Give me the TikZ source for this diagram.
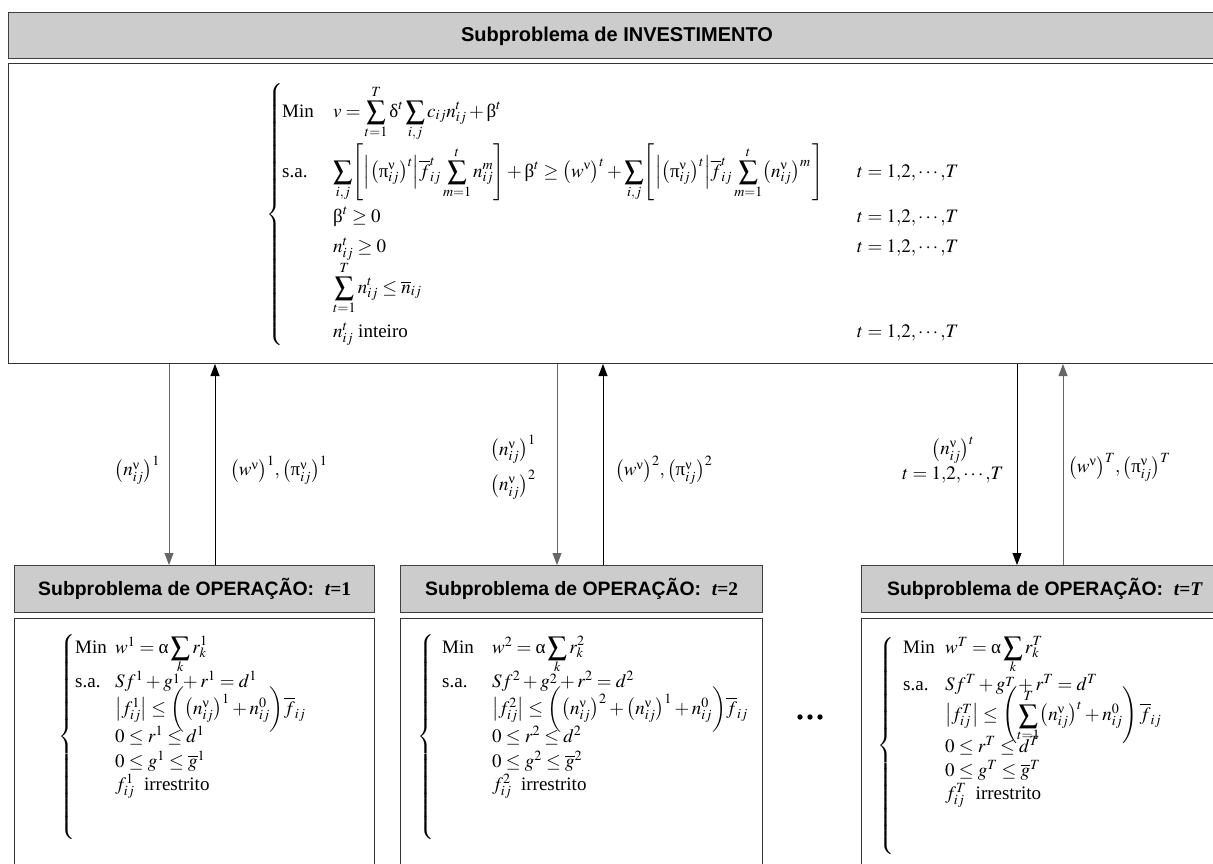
\documentclass[tikz,border=0pt]{standalone}
\usepackage{fix-cm}
\usepackage{amsmath}
\IfFileExists{mathptmx.sty}{\usepackage{mathptmx}}{}
\usepackage{fontspec}
\setmainfont{Liberation Serif}
\newfontfamily\lsans{Liberation Sans}
\usetikzlibrary{arrows.meta}
\newcommand{\gbeta}{\textup{β}}
\newcommand{\gdelta}{\textup{δ}}
\newcommand{\gpi}{\textup{π}}
\newcommand{\galpha}{\textup{α}}
\newcommand{\gnu}{\textup{ν}}
\newcommand{\nv}[1]{\bigl(n^{\gnu}_{ij}\bigr)^{#1}}
\newcommand{\tcond}{$t=1{,}2{,}\cdots{,}T$}
\newcommand{\lowsum}[3]{\mathop{\lower#1\hbox{$\displaystyle\sum_{\smash{#2}}^{#3}$}}}
\newcommand{\lsup}[1]{^{\lower3pt\hbox{$\scriptstyle #1$}}}
\tikzset{
  hdr/.style={draw=black!75, fill=black!20, line width=1.3pt, inner sep=0pt, anchor=north west},
  body/.style={draw=black!80, line width=1pt, inner sep=0pt, anchor=north west},
  arr/.style={-{Triangle[width=9pt,length=12pt]}, line width=0.8pt},
  mth/.style={inner sep=0pt, anchor=base west, font=\fontsize{19}{23}\selectfont},
  lbl/.style={inner sep=0pt, font=\fontsize{19}{23}\selectfont},
  brc/.style={inner sep=0pt, anchor=west, font=\fontsize{19}{23}\selectfont},
  ttl/.style={inner sep=0pt, font=\lsans\bfseries\fontsize{20}{24}\selectfont},
  optl/.style={inner sep=0pt, font=\lsans\bfseries\fontsize{19.4}{23}\selectfont},
}
\begin{document}
\begin{tikzpicture}[x=1pt,y=-1pt]
\useasboundingbox (0,0) rectangle (1213,863);
\clip (0,0) rectangle (1213,863);
% ---------- investment subproblem ----------
\node[hdr, minimum width=1230pt, minimum height=46pt] (invh) at (8,12) {};
\node[ttl] (invt) at (617,36) {Subproblema de INVESTIMENTO};
\node[body, minimum width=1230pt, minimum height=300pt] (inv) at (8,63) {};
\node[brc] (ib) at (266,215) {$\left\{\vrule height 128pt depth 128pt width 0pt\right.$};
\node[mth] (im1) at (282,117) {Min};
\node[mth] (is1) at (282,177) {s.a.};
\node[mth] (ie1) at (333,117) {$v = \displaystyle\sum_{t=1}^{T}\gdelta^{t}\sum_{i,j}c_{ij}n_{ij}^{t} + \gbeta^{t}$};
\node[mth] (ie2) at (333,177) {$\displaystyle\sum_{i,j}\Biggl[\Bigl|\bigl(\gpi^{\gnu}_{ij}\bigr)^{t}\Bigr|\overline{f}^{t}_{ij}\sum_{m=1}^{t}n^{m}_{ij}\Biggr] + \gbeta^{t} \ge \bigl(w^{\gnu}\bigr)^{t} + \sum_{i,j}\Biggl[\Bigl|\bigl(\gpi^{\gnu}_{ij}\bigr)^{t}\Bigr|\overline{f}^{t}_{ij}\sum_{m=1}^{t}\nv{m}\,\Biggr]$};
\node[mth] (ie3) at (333,222) {$\gbeta^{t}\ge 0$};
\node[mth] (ie4) at (333,252) {$n^{t}_{ij}\ge 0$};
\node[mth] (ie5) at (333,293) {$\displaystyle\sum_{t=1}^{T}n^{t}_{ij}\le \overline{n}_{ij}$};
\node[mth] (ie6) at (333,337) {$n^{t}_{ij}$ inteiro};
\node[mth] (ic2) at (857,177) {\tcond};
\node[mth] (ic3) at (857,222) {\tcond};
\node[mth] (ic4) at (857,252) {\tcond};
\node[mth] (ic6) at (857,337) {\tcond};
% ---------- operation subproblem t=1 ----------
\node[hdr, minimum width=360pt, minimum height=47pt] (op1h) at (14,565) {};
\node[optl] (op1t) at (op1h.center) {Subproblema de OPERAÇÃO:\ \ {\rmfamily\bfseries\itshape t}{\rmfamily\bfseries =1}};
\node[body, minimum width=360pt, minimum height=280pt] (op1) at (14,618) {};
\node[brc] (b1) at (58,738) {$\left\{\vrule height 100pt depth 100pt width 0pt\right.$};
\node[mth] (a1m) at (75,653) {Min};
\node[mth] (a1s) at (75,687) {s.a.};
\node[mth] (a1e1) at (115,653) {$w^{1} = \galpha\displaystyle\sum_{\smash{k}} r^{1}_{k}$};
\node[mth] (a1e2) at (115,687) {$Sf^{1} + g\lsup{1} + r^{1} = d^{1}$};
\node[mth] (a1e3) at (115,714) {$\bigl|f^{1}_{ij}\bigr| \le \biggl(\nv{1} + n^{0}_{ij}\biggr)\overline{f}_{ij}$};
\node[mth] (a1e4) at (115,742) {$0\le r^{1}\le d^{1}$};
\node[mth] (a1e5) at (115,767) {$0\le g^{1}\le \overline{g}^{1}$};
\node[mth] (a1e6) at (115,790) {$f^{1}_{ij}$\ \ irrestrito};
% ---------- operation subproblem t=2 ----------
\node[hdr, minimum width=362pt, minimum height=47pt] (op2h) at (400,565) {};
\node[optl] (op2t) at (op2h.center) {Subproblema de OPERAÇÃO:\ \ {\rmfamily\bfseries\itshape t}{\rmfamily\bfseries =2}};
\node[body, minimum width=362pt, minimum height=280pt] (op2) at (400,618) {};
\node[brc] (b2) at (417,738) {$\left\{\vrule height 100pt depth 100pt width 0pt\right.$};
\node[mth] (a2m) at (442,653) {Min};
\node[mth] (a2s) at (442,687) {s.a.};
\node[mth] (a2e1) at (492,653) {$w^{2} = \galpha\displaystyle\sum_{\smash{k}} r^{2}_{k}$};
\node[mth] (a2e2) at (492,687) {$Sf^{2} + g\lsup{2} + r^{2} = d^{2}$};
\node[mth] (a2e3) at (492,714) {$\bigl|f^{2}_{ij}\bigr| \le \biggl(\nv{2} + \nv{1} + n^{0}_{ij}\biggr)\overline{f}_{ij}$};
\node[mth] (a2e4) at (492,742) {$0\le r^{2}\le d^{2}$};
\node[mth] (a2e5) at (492,767) {$0\le g^{2}\le \overline{g}^{2}$};
\node[mth] (a2e6) at (492,790) {$f^{2}_{ij}$\ \ irrestrito};
% ---------- dots ----------
\fill (800,717) circle (2.7pt) (810,717) circle (2.7pt) (820,717) circle (2.7pt);
% ---------- operation subproblem t=T ----------
\node[hdr, minimum width=366pt, minimum height=47pt] (op3h) at (861,565) {};
\node[optl] (op3t) at (op3h.center) {Subproblema de OPERAÇÃO:\ \ {\rmfamily\bfseries\itshape t}{\rmfamily\bfseries =}{\rmfamily\bfseries\itshape T}};
\node[body, minimum width=366pt, minimum height=280pt] (op3) at (861,618) {};
\node[brc] (b3) at (877,746) {$\left\{\vrule height 102pt depth 102pt width 0pt\right.$};
\node[mth] (a3m) at (903,653) {Min};
\node[mth] (a3s) at (903,690) {s.a.};
\node[mth] (a3e1) at (945,653) {$w^{T} = \galpha\displaystyle\sum_{\smash{k}} r^{T}_{k}$};
\node[mth] (a3e2) at (945,690) {$Sf^{T} + g\lsup{T} + r^{T} = d^{T}$};
\node[mth] (a3e3) at (945,720) {$\bigl|f^{T}_{ij}\bigr| \le \left(\lowsum{1pt}{t=1}{T}\nv{t} + n^{0}_{ij}\right)\overline{f}_{ij}$};
\node[mth] (a3e4) at (945,752) {$0\le r^{T}\le d^{T}$};
\node[mth] (a3e5) at (945,776) {$0\le g^{T}\le \overline{g}^{T}$};
\node[mth] (a3e6) at (945,799) {$f^{T}_{ij}$\ \ irrestrito};
% ---------- connectors ----------
\coordinate (x1) at (169,0);
\coordinate (y1) at (215,0);
\coordinate (x2) at (557,0);
\coordinate (y2) at (603,0);
\coordinate (x3) at (1017,0);
\coordinate (y3) at (1063,0);
\draw[arr, draw=black!60] (inv.south -| x1) -- (op1h.north -| x1);
\draw[arr] (op1h.north -| y1) -- (inv.south -| y1);
\draw[arr, draw=black!60] (inv.south -| x2) -- (op2h.north -| x2);
\draw[arr] (op2h.north -| y2) -- (inv.south -| y2);
\draw[arr] (inv.south -| x3) -- (op3h.north -| x3);
\draw[arr, draw=black!60] (op3h.north -| y3) -- (inv.south -| y3);
% ---------- labels ----------
\node[lbl, anchor=east] (l1) at (160,470) {$\nv{1}$};
\node[lbl, anchor=west] (r1) at (230,470) {$\bigl(w^{\gnu}\bigr)^{1},\bigl(\gpi^{\gnu}_{ij}\bigr)^{1}$};
\node[lbl, align=center] (l2) at (513,467) {$\nv{1}$\\[6pt]$\nv{2}$};
\node[lbl, anchor=west] (r2) at (615,470) {$\bigl(w^{\gnu}\bigr)^{2},\bigl(\gpi^{\gnu}_{ij}\bigr)^{2}$};
\node[lbl, align=center] (l3) at (953,460) {$\nv{t}$\\[2pt]\tcond};
\node[lbl, anchor=west] (r3) at (1068,467) {$\bigl(w^{\gnu}\bigr)^{T},\bigl(\gpi^{\gnu}_{ij}\bigr)^{T}$};
\end{tikzpicture}
\end{document}
